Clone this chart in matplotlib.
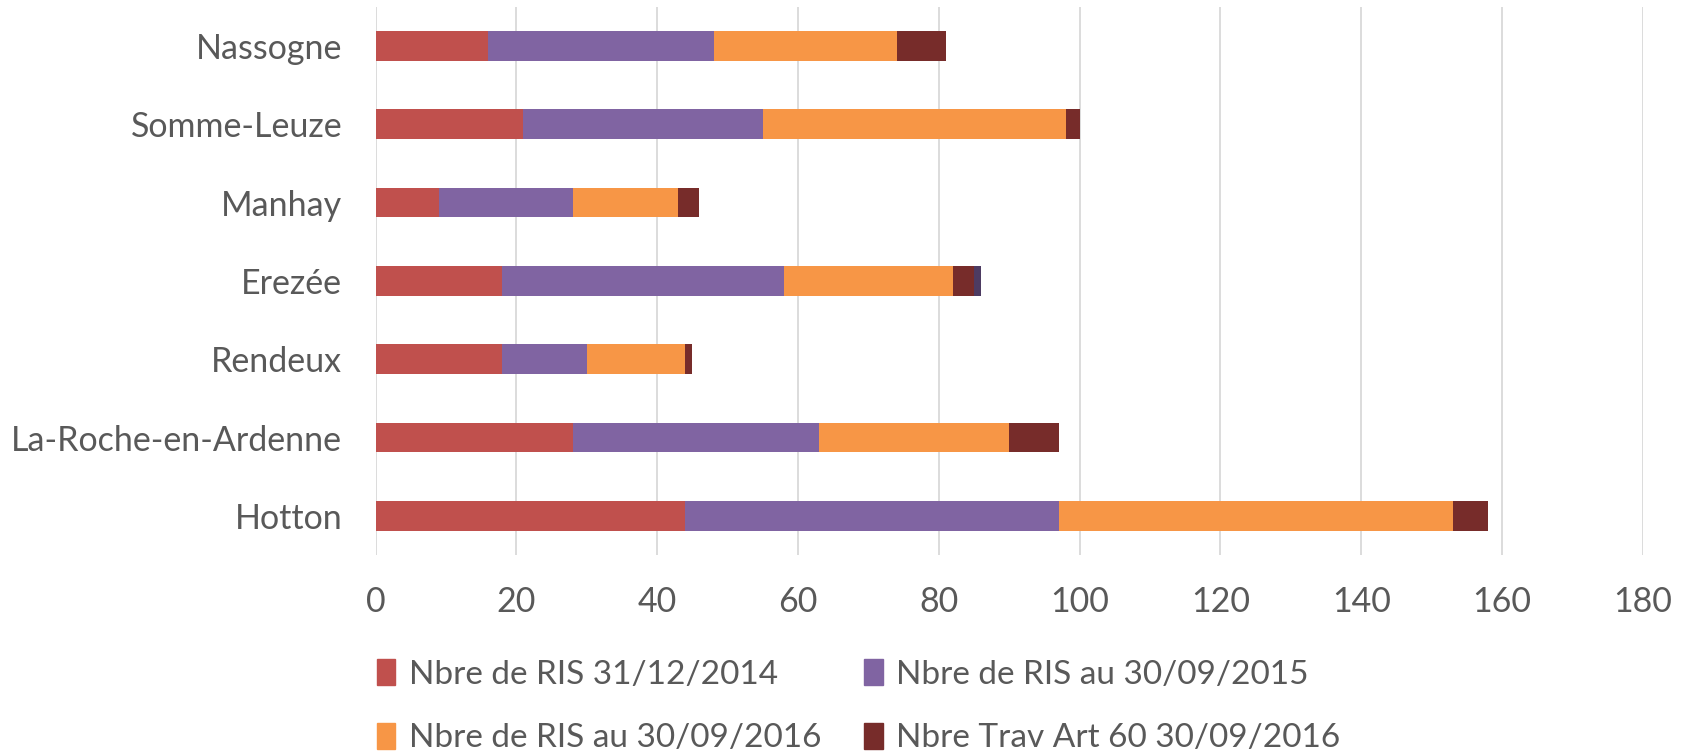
import matplotlib

matplotlib.use("Agg")

import matplotlib.pyplot as plt
import numpy as np
from matplotlib.patches import Patch

communes = ["Hotton", "La-Roche-en-Ardenne", "Rendeux", "Erezée", "Manhay", "Somme-Leuze", "Nassogne"]
ris_2014 = [44, 28, 18, 18, 9, 21, 16]
ris_2015 = [53, 35, 12, 40, 19, 34, 32]
ris_2016 = [56, 27, 14, 24, 15, 43, 26]
art60_2016 = [5, 7, 1, 3, 3, 2, 7]
extra = [0, 0, 0, 1, 0, 0, 0]  # unlabeled sliver on Erezée

labels = ["Nbre de RIS 31/12/2014", "Nbre de RIS au 30/09/2015",
          "Nbre de RIS au 30/09/2016", "Nbre Trav Art 60 30/09/2016"]
colors = ["#C0504D", "#8064A2", "#F79646", "#772C2A"]
extra_color = "#4D3B62"
text_color = "#595959"

plt.rcParams["font.family"] = ["Lato", "DejaVu Sans"]

fig = plt.figure(figsize=(16.92, 7.51), dpi=100)
ax = fig.add_axes([0.222, 0.261, 0.749, 0.730])

y = np.arange(len(communes))
left = np.zeros(len(communes))
for vals, c in zip([ris_2014, ris_2015, ris_2016, art60_2016, extra], colors + [extra_color]):
    ax.barh(y, vals, left=left, height=0.38, color=c, zorder=3)
    left += np.array(vals)

ax.set_xlim(0, 180)
ax.set_ylim(-0.5, len(communes) - 0.5)
ax.set_xticks(np.arange(0, 181, 20))
ax.set_yticks(y)
ax.set_yticklabels(communes)
ax.tick_params(axis="both", length=0, labelsize=24.5, colors=text_color)
ax.tick_params(axis="x", pad=22)
ax.tick_params(axis="y", pad=24)
ax.grid(axis="x", color="#D9D9D9", linewidth=1.3, zorder=0)
for s in ax.spines.values():
    s.set_visible(False)

handles = [Patch(color=c) for c in colors]
order = [0, 2, 1, 3]
fig.legend([handles[i] for i in order], [labels[i] for i in order],
           ncol=2, loc="upper left", bbox_to_anchor=(0.205, 0.162),
           frameon=False, fontsize=24, labelcolor=text_color,
           handlelength=0.55, handleheight=0.8, handletextpad=0.4,
           columnspacing=1.3, labelspacing=1.0)

plt.savefig("out.png", dpi=100)
plt.close()
